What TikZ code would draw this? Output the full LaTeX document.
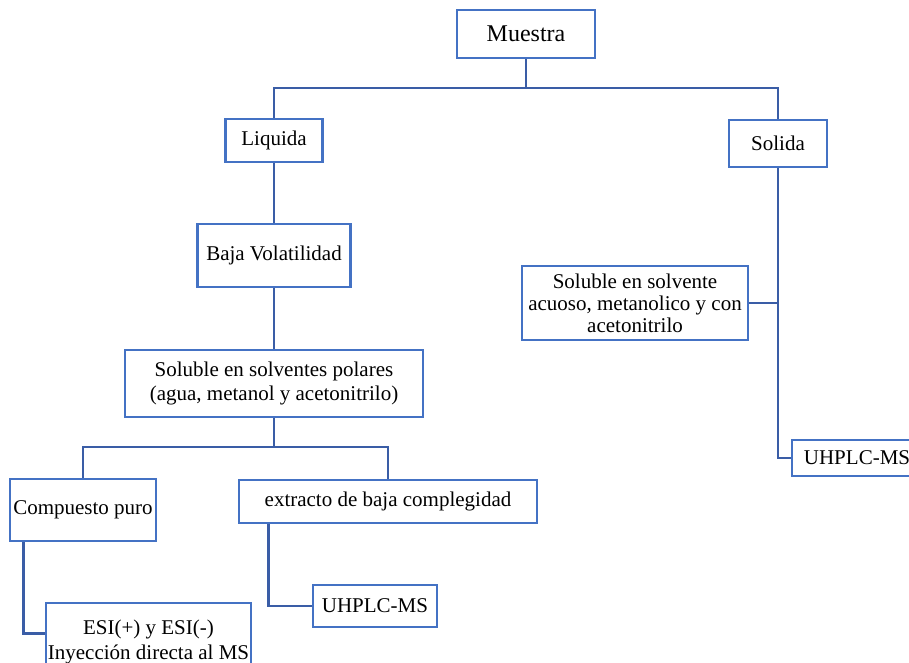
\documentclass[tikz,border=0pt]{standalone}
\usepackage{fontspec}
\setmainfont{Liberation Serif}
\usetikzlibrary{calc}
\definecolor{boxblue}{HTML}{4472C4}
\definecolor{lineblue}{HTML}{3A5DA6}
\begin{document}
\begin{tikzpicture}[x=1pt,y=-1pt,
  box/.style={draw=boxblue, line width=2.8pt, fill=white, rectangle, inner sep=0pt,
    align=center, font=\fontsize{21}{24}\selectfont},
  conn/.style={draw=lineblue, line width=2.8pt}]
\useasboundingbox (0,0) rectangle (909,662);
\node[box, minimum width=138, minimum height=48, font=\fontsize{24}{28}\selectfont] (muestra) at (526,34) {Muestra};
\node[box, minimum width=97, minimum height=43] (liquida) at (274,140.5) {Liquida};
\node[box, minimum width=98, minimum height=47] (solida) at (778,143.5) {Solida};
\node[box, minimum width=153, minimum height=63] (baja) at (274,255.5) {Baja Volatilidad};
\node[box, minimum width=298, minimum height=67] (solpol) at (274,383.5) {Soluble en solventes polares\\(agua, metanol y acetonitrilo)};
\node[box, minimum width=146, minimum height=62] (compuesto) at (83,510) {Compuesto puro};
\node[box, minimum width=298, minimum height=43] (extracto) at (388,501.5) {extracto de baja complegidad};
\node[box, minimum width=205, minimum height=77, font=\fontsize{21}{25}\selectfont] (esi) at (148.5,641.5) {ESI(+) y ESI(-)\\Inyección directa al MS};
\node[box, minimum width=124, minimum height=42] (uhplcA) at (375,606) {UHPLC-MS};
\node[box, minimum width=226, minimum height=74, font=\fontsize{21}{22}\selectfont] (solsolv) at (635,303) {Soluble en solvente\\acuoso, metanolico y con\\acetonitrilo};
\node[box, minimum width=130, minimum height=36] (uhplcB) at (857,458) {UHPLC-MS};

\coordinate (j1) at (526,88);
\coordinate (j2) at (274,447);
\draw[conn] (muestra.south) -- (j1);
\draw[conn] (liquida.north) |- (j1) -| (solida.north);
\draw[conn] (liquida.south) -- (baja.north);
\draw[conn] (baja.south) -- (solpol.north);
\draw[conn] (solpol.south) -- (j2);
\draw[conn] (compuesto.north) |- (j2) -| (extracto.north);
\coordinate (cb) at ($(compuesto.south west)+(15,0)$);
\draw[conn] (cb) |- ($(esi.west)+(0,-8)$);
\coordinate (eb) at ($(extracto.south west)+(31,0)$);
\draw[conn] (eb) |- (uhplcA.west);
\draw[conn] (solida.south) |- (uhplcB.west);
\draw[conn] (solsolv.east) -- (solsolv.east -| solida.south);
\end{tikzpicture}
\end{document}
